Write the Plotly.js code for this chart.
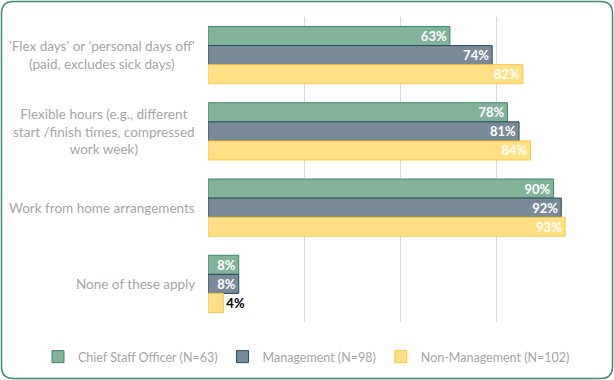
<!DOCTYPE html>
<html><head><meta charset="utf-8">
<script src="https://cdn.plot.ly/plotly-3.0.1.min.js"></script>
<style>html,body{margin:0;padding:0;background:#fff;}#chart{width:614px;height:380px;}</style>
</head><body><div id="chart"></div>
<script>
const categories = [
  "'Flex days' or 'personal days off'<br>(paid, excludes sick days)",
  "Flexible hours (e.g., different<br>start /finish times, compressed<br>work week)",
  "Work from home arrangements",
  "None of these apply"
];
const seriesNames = ["Chief Staff Officer (N=63)", "Management (N=98)", "Non-Management (N=102)"];
const chiefStaff = [63, 78, 90, 8];
const management = [74, 81, 92, 8];
const nonManagement = [82, 84, 93, 4];

const W = 614, H = 380, L = 208, R = 22, T = 17, B = 58;
const pw = W - L - R, ph = H - T - B;
const px = x => (x - L) / pw;
const py = y => 1 - (y - T) / ph;

function roundedRect(x0, y0, x1, y1, r) {
  const p = (x, y) => px(x) + ',' + py(y);
  return 'M' + p(x0 + r, y0) + ' L' + p(x1 - r, y0) + ' Q' + p(x1, y0) + ' ' + p(x1, y0 + r) +
    ' L' + p(x1, y1 - r) + ' Q' + p(x1, y1) + ' ' + p(x1 - r, y1) +
    ' L' + p(x0 + r, y1) + ' Q' + p(x0, y1) + ' ' + p(x0, y1 - r) +
    ' L' + p(x0, y0 + r) + ' Q' + p(x0, y0) + ' ' + p(x0 + r, y0) + ' Z';
}

const fills = ['#82b398', '#7b8a98', '#ffe085'];
const borders = ['#3d8b68', '#1e4f5e', '#f6c844'];
const all = [chiefStaff, management, nonManagement];
const labelFont = {family: 'Lato, sans-serif', size: 13.5, color: '#a6a6a6'};

const traces = all.map((vals, i) => ({
  type: 'bar', orientation: 'h', name: seriesNames[i],
  y: categories, x: vals,
  text: vals.map(v => v + '%'),
  textposition: vals.map(v => v < 6 ? 'outside' : 'inside'),
  insidetextanchor: 'end',
  constraintext: 'none',
  textangle: 0,
  textfont: {family: 'Lato, sans-serif', size: 13, weight: 'bold', color: vals.map(v => v < 6 ? '#000' : '#fff')},
  cliponaxis: false,
  marker: {color: fills[i], line: {color: borders[i], width: 1}},
  hoverinfo: 'skip'
}));

const layout = {
  width: W, height: H,
  margin: {l: L, r: R, t: T, b: B, autoexpand: false},
  paper_bgcolor: '#fff', plot_bgcolor: '#fff',
  barmode: 'group', bargap: 0.25, bargroupgap: 0,
  xaxis: {range: [0, 100], tickvals: [0, 25, 50, 75, 100], showticklabels: false,
    showgrid: true, gridcolor: '#d9d9d9', gridwidth: 1, zeroline: false, showline: false, fixedrange: true},
  yaxis: {autorange: 'reversed', ticks: '', showline: false, showgrid: false, showticklabels: false},
  annotations: categories.map(c => ({
    xref: 'paper', yref: 'y', x: px(197), y: c, text: c, showarrow: false,
    xanchor: 'right', yanchor: 'middle', align: 'center', font: labelFont
  })),
  showlegend: true,
  legend: {orientation: 'h', xref: 'paper', x: px(38), xanchor: 'left',
    yref: 'paper', y: py(357), yanchor: 'middle', traceorder: 'normal',
    font: {family: 'Lato, sans-serif', size: 12.5, color: '#a6a6a6'}, itemwidth: 30},
  font: {family: 'Lato, sans-serif'},
  shapes: [{type: 'path', xref: 'paper', yref: 'paper', path: roundedRect(1.5, 1.5, 612.5, 378.5, 12),
    line: {color: '#3d8b68', width: 1.5}, fillcolor: 'rgba(0,0,0,0)', layer: 'above'}]
};
Plotly.newPlot('chart', traces, layout, {displayModeBar: false, staticPlot: true});
</script></body></html>
